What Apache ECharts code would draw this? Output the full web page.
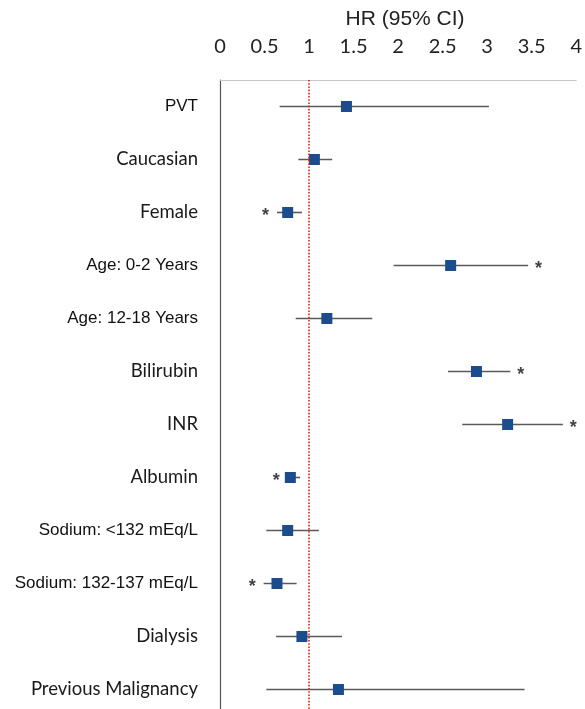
<!DOCTYPE html>
<html><head><meta charset="utf-8">
<script src="https://cdn.jsdelivr.net/npm/echarts@6/dist/echarts.min.js"></script>
<style>html,body{margin:0;padding:0;background:#fff;overflow:hidden}#c{width:585px;height:716px}</style>
</head><body><div id="c"></div>
<script>
const categories = ["PVT","Caucasian","Female","Age: 0-2 Years","Age: 12-18 Years","Bilirubin","INR","Albumin","Sodium: <132 mEq/L","Sodium: 132-137 mEq/L","Dialysis","Previous Malignancy"];
const labelFont = ["a","c","c","a","a","c","c","c","a","a","c","c"];
const hr   = [1.42,1.06,0.76,2.59,1.20,2.88,3.23,0.79,0.76,0.64,0.92,1.33];
const low  = [0.67,0.88,0.64,1.95,0.85,2.56,2.72,0.76,0.52,0.49,0.63,0.52];
const high = [3.02,1.26,0.92,3.46,1.71,3.26,3.85,0.90,1.11,0.86,1.37,3.42];
const starSide = ["","","L","R","","R","R","L","","L","",""];
const xTicks = [0,0.5,1,1.5,2,2.5,3,3.5,4];
const refLine = 1;

const ciData = categories.map((c,i)=>[i, low[i], high[i]]);
const ptData = categories.map((c,i)=>[hr[i], i]);
const starL = [], starR = [];
starSide.forEach((s,i)=>{ if(s==="L") starL.push([low[i], i]); if(s==="R") starR.push([high[i], i]); });

const chart = echarts.init(document.getElementById('c'));
chart.setOption({
  animation:false,
  grid:{left:220, top:80, right:7, bottom:0},
  xAxis:{type:'value', position:'top', min:0, max:4, interval:0.5,
    name:'HR (95% CI)', nameLocation:'middle', nameGap:50,
    nameTextStyle:{fontFamily:'Liberation Sans', fontSize:21, color:'#222', padding:[0,0,0,14]},
    axisLine:{show:true, lineStyle:{color:'#c8c8c8', width:1}},
    axisTick:{show:false}, splitLine:{show:false},
    axisLabel:{margin:23, fontFamily:'Lato', fontSize:20, color:'#222',
      formatter:v=>xTicks.includes(v)?String(v):''}
  },
  yAxis:{type:'category', data:categories, inverse:true,
    axisLine:{show:true, lineStyle:{color:'#555', width:1.2}},
    axisTick:{show:false}, splitLine:{show:false},
    axisLabel:{margin:22, color:'#111', formatter:(v,i)=>'{'+labelFont[i]+'|'+v+'}',
      rich:{a:{fontFamily:'Liberation Sans', fontSize:17, color:'#111'},
            c:{fontFamily:'Lato', fontSize:18.5, color:'#1a1a1a'}}}
  },
  series:[
    {type:'custom', data:ciData, encode:{x:[1,2], y:0}, z:2,
     renderItem:(params, api)=>{
       const a = api.coord([api.value(1), api.value(0)]);
       const b = api.coord([api.value(2), api.value(0)]);
       return {type:'line', shape:{x1:a[0],y1:a[1],x2:b[0],y2:b[1]}, style:{stroke:'#5a5a5a', lineWidth:1.6}};
     },
     markLine:{silent:true, symbol:'none', label:{show:false},
       lineStyle:{color:'#d0281c', type:'dotted', width:1.6},
       data:[{xAxis:refLine}]}
    },
    {type:'scatter', data:ptData, symbol:'rect', symbolSize:11, z:3,
     itemStyle:{color:'#1c4c8c', opacity:1}},
    {type:'scatter', data:starL, symbolSize:0, z:4,
     label:{show:true, position:'left', distance:8, offset:[0,4], formatter:'*', fontSize:18, fontWeight:'bold', color:'#111', fontFamily:'Liberation Sans'}},
    {type:'scatter', data:starR, symbolSize:0, z:4,
     label:{show:true, position:'right', distance:7, offset:[0,4], formatter:'*', fontSize:18, fontWeight:'bold', color:'#111', fontFamily:'Liberation Sans'}}
  ]
});
</script></body></html>
